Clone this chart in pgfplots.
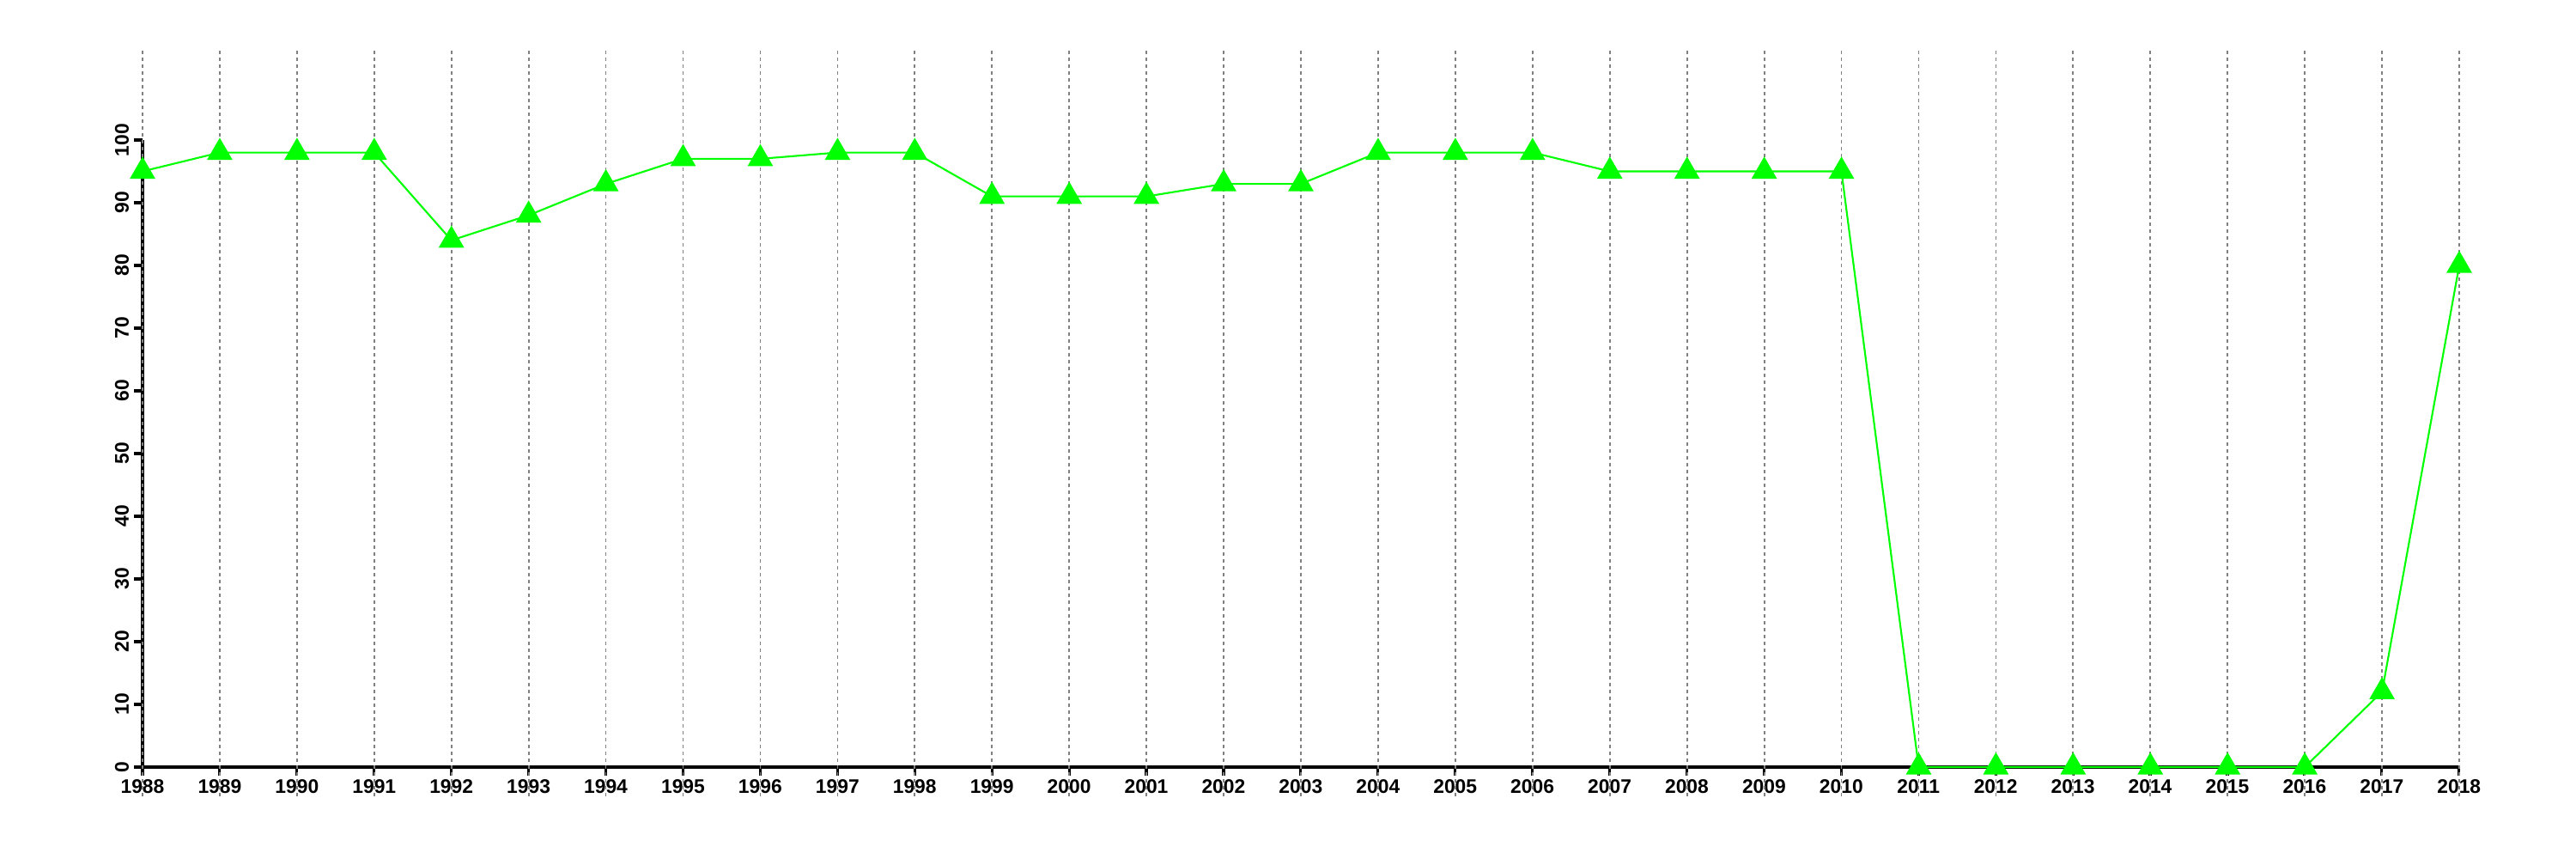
\documentclass[border=0pt]{standalone}
\usepackage{pgfplots}
\pgfplotsset{compat=1.18}
\usepackage{fontspec}
\setmainfont{Liberation Sans}

\definecolor{lime}{RGB}{0,255,0}

\begin{document}
\begin{tikzpicture}
  \useasboundingbox (-16.6mm,-10.7mm) rectangle (283.4mm,89.3mm);
  \begin{axis}[
    at={(0,0)}, anchor=south west,
    scale only axis, width=269.8mm, height=73mm,
    xmin=1988, xmax=2018, ymin=0, ymax=100,
    axis lines=left, axis line style={-, line width=0.9pt},
    xtick={1988,...,2018}, ytick={0,10,...,100},
    tick align=outside, major tick length=1mm,
    tick style={black, line width=0.9pt},
    x tick label style={/pgf/number format/1000 sep={}},
    /pgf/number format/assume math mode=true,
    tick label style={font=\fontsize{6.5}{7.5}\selectfont\bfseries},
    yticklabel style={rotate=90, anchor=south, inner sep=1.5pt},
    xticklabel style={inner sep=1pt},
    clip=false,
  ]
    \pgfplotsinvokeforeach{1988,...,2018}{
      \addplot[gray, line width=0.5pt, dash pattern=on 0.4mm off 0.4mm, forget plot]
        coordinates {(#1,-4.7) (#1,114.5)};
    }
    \addplot[lime, line width=0.6pt, mark=triangle*, mark size=4.3pt,
      mark options={fill=lime, draw=lime}] coordinates {
      (1988,95) (1989,98) (1990,98) (1991,98) (1992,84) (1993,88)
      (1994,93) (1995,97) (1996,97) (1997,98) (1998,98) (1999,91)
      (2000,91) (2001,91) (2002,93) (2003,93) (2004,98) (2005,98)
      (2006,98) (2007,95) (2008,95) (2009,95) (2010,95) (2011,0)
      (2012,0) (2013,0) (2014,0) (2015,0) (2016,0) (2017,12) (2018,80)
    };
  \end{axis}
\end{tikzpicture}
\end{document}
